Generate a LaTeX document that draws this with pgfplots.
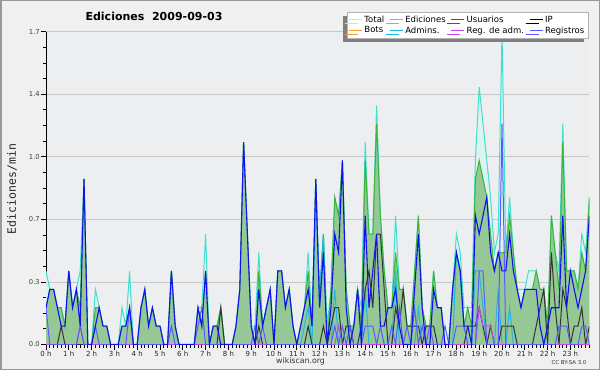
\documentclass[border=0pt]{standalone}
\usepackage{pgfplots}
\pgfplotsset{compat=1.18}
\usepackage{pgfplotstable}
\usepackage{fontspec}
\setmainfont{DejaVu Sans}
\newfontfamily\monofont{DejaVu Sans Mono}
\usetikzlibrary{shadows}
\definecolor{cTotal}{HTML}{40E0D0}
\definecolor{cTotalFill}{HTML}{DDF3EF}
\definecolor{cEd}{HTML}{3CB43C}
\definecolor{cEdFill}{HTML}{96C896}
\definecolor{cUs}{HTML}{1010F0}
\definecolor{cIP}{HTML}{333333}
\definecolor{cBots}{HTML}{FF9933}
\definecolor{cAdm}{HTML}{20B8E0}
\definecolor{cRA}{HTML}{CC44EE}
\definecolor{cReg}{HTML}{5A5AFF}
\definecolor{cBg}{HTML}{F0F0F0}
\definecolor{cPlot}{HTML}{EDEEF0}

% i = 10-minute bin; values in edits per minute
\pgfplotstableread{
i T E U I G R A
0 0.4 0.2 0.2 0 0.2 0 0
1 0.3 0.3 0.3 0 0 0 0
2 0.3 0.3 0.3 0 0 0 0
3 0.2 0.2 0.2 0 0 0 0
4 0.2 0.2 0.1 0.1 0 0 0
5 0.1 0.1 0.1 0 0 0 0
6 0.4 0.4 0.4 0 0 0 0
7 0.2 0.2 0.2 0 0 0 0
8 0.3 0.3 0.3 0 0 0 0
9 0.4 0.2 0.1 0 0.1 0.1 0
10 0.9 0.9 0.9 0 0 0 0
11 0 0 0 0 0 0 0
12 0 0 0 0 0 0 0
13 0.3 0.2 0.1 0 0.1 0 0
14 0.2 0.2 0.2 0 0 0 0
15 0.1 0.1 0.1 0 0 0 0
16 0.1 0.1 0.1 0 0 0 0
17 0 0 0 0 0 0 0
18 0 0 0 0 0 0 0
19 0 0 0 0 0 0 0
20 0.2 0.1 0.1 0 0 0 0
21 0.1 0.1 0.1 0 0 0 0
22 0.4 0.2 0.2 0 0.2 0 0
23 0 0 0 0 0 0 0
24 0 0 0 0 0 0 0
25 0.2 0.2 0.2 0 0 0 0
26 0.3 0.3 0.3 0 0 0 0
27 0.1 0.1 0.1 0 0 0 0
28 0.2 0.2 0.2 0 0 0 0
29 0.1 0.1 0.1 0 0 0 0
30 0.1 0.1 0.1 0 0 0 0
31 0 0 0 0 0 0 0
32 0 0 0 0 0 0 0
33 0.4 0.4 0.4 0 0.1 0 0
34 0.1 0.1 0.1 0 0 0 0
35 0 0 0 0 0 0 0
36 0 0 0 0 0 0 0
37 0 0 0 0 0 0 0
38 0 0 0 0 0 0 0
39 0 0 0 0 0 0 0
40 0.2 0.2 0.2 0 0.1 0 0
41 0.2 0.1 0.1 0 0.2 0 0
42 0.6 0.4 0.4 0 0 0 0
43 0 0 0 0 0 0 0
44 0.1 0.1 0.1 0 0 0 0
45 0.1 0.1 0.1 0 0 0 0
46 0.2 0.2 0 0.2 0 0 0
47 0 0 0 0 0 0 0
48 0 0 0 0 0 0 0
49 0 0 0 0 0 0 0
50 0.1 0.1 0.1 0 0 0 0
51 0.3 0.3 0.3 0 0 0 0
52 1.1 1.1 1.1 0 0 0 0
53 0.6 0.6 0.6 0 0 0 0
54 0.1 0.1 0.1 0 0 0 0
55 0.1 0 0 0 0.1 0 0
56 0.5 0.4 0.3 0.1 0 0 0
57 0.1 0.1 0.1 0 0.1 0 0
58 0.2 0.2 0.2 0 0 0 0
59 0.3 0.3 0.3 0 0 0 0
60 0 0 0 0 0 0 0
61 0.4 0.4 0.4 0 0 0 0
62 0.4 0.4 0.4 0 0 0 0
63 0.2 0.2 0.2 0 0 0 0
64 0.3 0.3 0.3 0 0 0 0
65 0.1 0.1 0.1 0 0 0 0
66 0 0 0 0 0 0 0
67 0.1 0.1 0.1 0 0 0 0
68 0.2 0.2 0.2 0 0 0 0.1
69 0.5 0.4 0.3 0.1 0 0 0.2
70 0.1 0.1 0.1 0 0 0 0
71 0.9 0.9 0.9 0 0 0 0.8
72 0.2 0.2 0.2 0 0 0 0.3
73 0.6 0.6 0.5 0.1 0 0 0.6
74 0.1 0 0 0 0 0 0
75 0.3 0.3 0.2 0.1 0 0 0
76 0.8 0.8 0.6 0.2 0.1 0 0.3
77 0.7 0.7 0.5 0.2 0 0.1 0
78 1.0 1.0 1.0 0 0.1 0 0
79 0.3 0.3 0.2 0.1 0 0 0
80 0.1 0.1 0 0.1 0.1 0 0
81 0.1 0.1 0.1 0 0 0 0
82 0.3 0.3 0.3 0 0 0 0
83 0.2 0.1 0 0.1 0 0 0
84 1.1 1.0 0.7 0.3 0.1 0 0.3
85 0.6 0.6 0.2 0.4 0.1 0 0
86 0.6 0.6 0.4 0.2 0.1 0 0
87 1.3 1.2 0.6 0.6 0 0 0
88 0.7 0.7 0.1 0.6 0.1 0 0
89 0.4 0.4 0.1 0.3 0 0 0
90 0.2 0.2 0.2 0 0 0 0
91 0.2 0.2 0.2 0 0.1 0 0
92 0.7 0.5 0.3 0.2 0 0 0.4
93 0.3 0.3 0.1 0.1 0.2 0 0
94 0.3 0.3 0 0.3 0 0 0
95 0.1 0.1 0 0.1 0.1 0 0
96 0.1 0.1 0 0.1 0 0 0
97 0.4 0.4 0.3 0.1 0.2 0 0
98 0.7 0.7 0.6 0.1 0 0 0.2
99 0.2 0.2 0.2 0 0.1 0 0
100 0.1 0.1 0 0.1 0 0 0
101 0.1 0.1 0 0.1 0.1 0 0
102 0.4 0.4 0.3 0.1 0 0 0
103 0.2 0.2 0.2 0 0 0 0
104 0.2 0.2 0.2 0 0 0 0
105 0 0 0 0 0.1 0 0
106 0 0 0 0 0 0 0
107 0.3 0.3 0.3 0 0 0 0
108 0.6 0.5 0.5 0 0.1 0 0.5
109 0.5 0.4 0.4 0 0.1 0 0.4
110 0.2 0.1 0.1 0 0.1 0 0.1
111 0.2 0.2 0.1 0.1 0 0 0
112 0.2 0.1 0 0.1 0 0 0
113 1.0 0.9 0.7 0.1 0 0 0.4
114 1.4 1.0 0.6 0.2 0.4 0.2 0.4
115 1.2 0.9 0.7 0.1 0.4 0.1 0.2
116 1.0 0.8 0.8 0 0 0.1 0
117 0.8 0.6 0.5 0.1 0 0.1 0
118 0.5 0.4 0.4 0 0 0 0
119 0.6 0.5 0.5 0 0 0 0.3
120 1.7 0.5 0.4 0.1 1.2 0 0
121 0.5 0.5 0.4 0.1 0 0 0
122 0.8 0.7 0.6 0.1 0 0 0.2
123 0.5 0.5 0.4 0.1 0 0 0
124 0.3 0.3 0.3 0 0 0 0
125 0.3 0.2 0.2 0 0 0 0
126 0.3 0.3 0.3 0 0 0 0
127 0.4 0.3 0.3 0 0 0 0
128 0.4 0.3 0.3 0 0 0 0
129 0.4 0.4 0.3 0.1 0 0 0
130 0.3 0.3 0.1 0.2 0 0 0
131 0.3 0.3 0 0.3 0 0 0
132 0.1 0.1 0.1 0 0 0 0
133 0.7 0.7 0.2 0.5 0 0 0
134 0.5 0.5 0.2 0.2 0 0 0
135 0.4 0.3 0.2 0 0.1 0 0
136 1.2 1.1 0.7 0.3 0.1 0 0
137 0.4 0.4 0.2 0.2 0.1 0 0
138 0.4 0.4 0.4 0 0 0 0
139 0.4 0.4 0.3 0.1 0 0 0
140 0.3 0.3 0.2 0.1 0 0 0
141 0.6 0.5 0.3 0.2 0.1 0 0
142 0.5 0.4 0.4 0 0.1 0 0
143 0.8 0.8 0.7 0.1 0 0 0
}\data

\begin{document}
\begin{tikzpicture}[x=1pt,y=1pt]
\fill[cBg] (0,0) rectangle (600,370);
\draw[black!40, line width=1.5pt] (0.75,0.75) rectangle (599.25,369.25);
\begin{axis}[
  at={(46pt,25.5pt)}, anchor=south west,
  scale only axis, width=543.4pt, height=312.8pt,
  xmin=0, xmax=143, ymin=0, ymax=1.7,
  axis lines*=left,
  axis line style={black, line width=1pt},
  axis background/.style={fill=cPlot},
  clip=true,
  xtick={0,6,...,138},
  xticklabels={0 h,1 h,2 h,3 h,4 h,5 h,6 h,7 h,8 h,9 h,10 h,11 h,12 h,13 h,14 h,15 h,16 h,17 h,18 h,19 h,20 h,21 h,22 h,23 h},
  minor xtick={0,1,...,143},
  ytick={0,0.34,0.68,1.02,1.36,1.7},
  yticklabels={0.0,0.3,0.7,1.0,1.4,1.7},
  minor y tick num=3,
  tick align=outside,
  major tick length=5pt, minor tick length=3.5pt,
  tick style={black, line width=0.8pt},
  ymajorgrids, grid style={black!22, line width=0.8pt},
  xticklabel style={font=\fontsize{7}{8}\selectfont, text=black!85, inner sep=1pt},
  yticklabel style={font=\fontsize{6.8}{8}\selectfont, text=black!75, inner sep=1pt},
  legend columns=4,
  legend cell align=left,
  legend style={at={(0.9974,1.063)}, anchor=north east, fill=white, draw=black!30,
    font=\fontsize{8.5}{9}\selectfont, inner sep=1.5pt, row sep=-1pt,
    drop shadow={shadow xshift=-4pt, shadow yshift=-4pt, fill=black!50, opacity=1},
    /tikz/every even column/.append style={column sep=3pt}},
  legend image code/.code={\draw[#1] (0pt,0pt) -- (13pt,0pt);},
]
\addplot[draw=none, fill=cTotalFill, forget plot] table[x=i,y=T]{\data} \closedcycle;
\addplot[draw=none, fill=cEdFill, forget plot] table[x=i,y=E]{\data} \closedcycle;
\addplot[cTotal, line width=1pt, forget plot] table[x=i,y=T]{\data};
\addplot[cEd, line width=1pt, forget plot] table[x=i,y=E]{\data};
\addplot[cAdm, line width=1pt, forget plot] table[x=i,y=A]{\data};
\addplot[cIP, line width=1pt, forget plot] table[x=i,y=I]{\data};
\addplot[cRA, line width=1pt, forget plot] table[x=i,y=R]{\data};
\addplot[cReg, line width=1pt, forget plot] table[x=i,y=G]{\data};
\addplot[cUs, line width=1.1pt, forget plot] table[x=i,y=U]{\data};
\addlegendimage{cTotal!45, line width=1pt}
\addlegendentry{Total}
\addlegendimage{cEd!70, line width=1pt}
\addlegendentry{Ediciones}
\addlegendimage{cUs!80, line width=1pt}
\addlegendentry{Usuarios}
\addlegendimage{black, line width=1pt}
\addlegendentry{IP}
\addlegendimage{cBots, line width=1pt}
\addlegendentry{Bots}
\addlegendimage{cAdm, line width=1pt}
\addlegendentry{Admins.}
\addlegendimage{cRA, line width=1pt}
\addlegendentry{Reg. de adm.}
\addlegendimage{cReg, line width=1pt}
\addlegendentry{Registros}
\end{axis}
\node[font=\bfseries\fontsize{11}{12}\selectfont] at (154,354) {Ediciones\ \ 2009-09-03};
\node[rotate=90, font=\monofont\fontsize{11.5}{12}\selectfont, text=black!85] at (12,181) {Ediciones/min};
\node[font=\fontsize{7.8}{9}\selectfont, text=black!80] at (300.5,8.3) {wikiscan.org};
\node[font=\fontsize{5.4}{6}\selectfont, text=black!80] at (569,7.7) {CC BY-SA 3.0};
\end{tikzpicture}
\end{document}
